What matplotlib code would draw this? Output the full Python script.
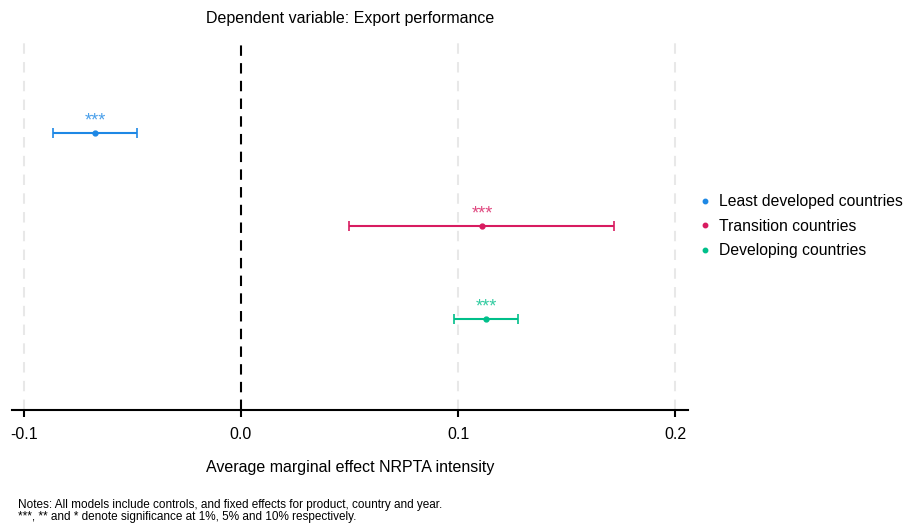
import numpy as np
import matplotlib.pyplot as plt

plt.rcParams['font.family'] = ['Liberation Sans', 'DejaVu Sans']

# estimates
groups = ['Least developed countries', 'Transition countries', 'Developing countries']
estimate = [-0.0673, 0.111, 0.1129]
ci_low = [-0.0866, 0.0498, 0.0982]
ci_high = [-0.0479, 0.1719, 0.1276]
stars = ['***', '***', '***']
colors = ['#1E88E5', '#D81B60', '#00BF8A']
ypos = [3, 2, 1]
xticks = [-0.1, 0.0, 0.1, 0.2]

fig = plt.figure(figsize=(9.05, 5.26), dpi=100)
ax = fig.add_axes([0.0133, 0.2205, 0.747, 0.7034])

for xt in xticks:
    if xt != 0.0:
        ax.axvline(xt, color='#e8e8e8', lw=1.5, ls=(0, (5, 4)), zorder=0)
ax.axvline(0.0, color='black', lw=1.5, ls=(0, (5, 3.5)), zorder=1)

for i in range(len(groups)):
    err = [[estimate[i] - ci_low[i]], [ci_high[i] - estimate[i]]]
    ax.errorbar(estimate[i], ypos[i], xerr=err, fmt='o', color=colors[i],
                ms=3.5, lw=1.5, capsize=3.5, capthick=1.2, label=groups[i], zorder=3)
    ax.text(estimate[i], ypos[i] + 0.13, stars[i], color=colors[i], ha='center',
            va='center', fontsize=13, alpha=0.8)

ax.set_xlim(-0.1055, 0.206)
ax.set_ylim(0.02, 4.0)
ax.set_xticks(xticks)
ax.set_xticklabels(['-0.1', '0.0', '0.1', '0.2'], fontsize=11.5)
ax.set_yticks([])
for s in ['top', 'right', 'left']:
    ax.spines[s].set_visible(False)
ax.spines['bottom'].set_linewidth(1.5)
ax.tick_params(axis='x', length=5, width=1.5, pad=7)
ax.set_xlabel('Average marginal effect NRPTA intensity', fontsize=11.5, labelpad=13)
ax.set_title('Dependent variable: Export performance', fontsize=11.5, pad=12)

handles = [plt.Line2D([], [], ls='none', marker='o', ms=3.2, color=c) for c in colors]
fig.legend(handles, groups, loc='center left', bbox_to_anchor=(0.7525, 0.57),
           frameon=False, fontsize=11.3, handletextpad=0.3, handlelength=1.2,
           labelspacing=0.6)

fig.text(0.02, 0.029, 'Notes: All models include controls, and fixed effects for product, country and year.\n'
         '***, ** and * denote significance at 1%, 5% and 10% respectively.',
         fontsize=8.5, va='center', linespacing=0.95)

fig.savefig('out.png', dpi=100)
